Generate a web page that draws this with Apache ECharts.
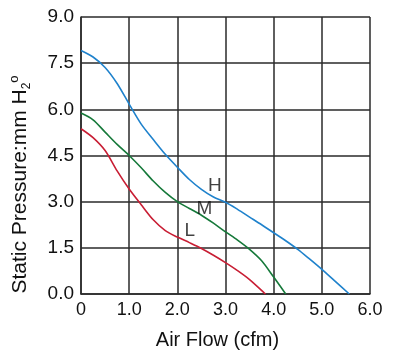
<!DOCTYPE html>
<html>
<head>
<meta charset="utf-8">
<script src="https://cdn.jsdelivr.net/npm/echarts@6/dist/echarts.min.js"></script>
<style>
html,body{margin:0;padding:0;background:#fff;}
#c{width:400px;height:355px;}
</style>
</head>
<body>
<div id="c"></div>
<script>
// Data (x = air flow in cfm, y = static pressure in mm H2O)
var curveH = [[0,7.91],[0.25,7.7],[0.5,7.36],[0.75,6.84],[1.0,6.17],[1.25,5.52],[1.5,5.02],[1.75,4.54],[2.0,4.12],[2.25,3.72],[2.5,3.4],[2.75,3.15],[3.0,2.98],[3.25,2.75],[3.5,2.5],[3.75,2.25],[4.0,1.99],[4.25,1.73],[4.5,1.45],[4.75,1.13],[5.0,0.8],[5.25,0.45],[5.57,0]];
var curveM = [[0,5.88],[0.25,5.66],[0.5,5.26],[0.75,4.86],[1.0,4.5],[1.25,4.1],[1.5,3.67],[1.75,3.3],[2.0,3.0],[2.25,2.78],[2.5,2.56],[2.75,2.3],[3.0,2.02],[3.25,1.75],[3.5,1.45],[3.75,1.08],[4.0,0.55],[4.25,0]];
var curveL = [[0,5.37],[0.25,5.08],[0.5,4.66],[0.75,4.0],[1.0,3.41],[1.25,2.9],[1.5,2.41],[1.75,2.06],[2.0,1.85],[2.25,1.67],[2.5,1.48],[2.75,1.26],[3.0,1.02],[3.25,0.76],[3.5,0.47],[3.83,0]];
var curveNames = ['H','M','L'];
var curveLabelPos = [[2.78,3.52],[2.56,2.77],[2.26,2.06]];
var xTicks = ['0','1.0','2.0','3.0','4.0','5.0','6.0'];
var yTicks = ['0.0','1.5','3.0','4.5','6.0','7.5','9.0'];

var colors = ['#1f82cc','#16793a','#c81e34'];
var font = 'Liberation Sans, Arial, sans-serif';

var chart = echarts.init(document.getElementById('c'), null, {renderer:'canvas'});
var labelData = curveNames.map(function(n,i){ return {value: curveLabelPos[i], name: n}; });

chart.setOption({
  animation:false,
  backgroundColor:'#fff',
  grid:{left:75,right:30,top:17,bottom:59,containLabel:false},
  xAxis:{
    type:'value',min:0,max:6,interval:1,
    axisLine:{show:true,onZero:false,lineStyle:{color:'#2a2a2a',width:1.5}},
    axisTick:{show:false},
    splitLine:{show:true,lineStyle:{color:'#2a2a2a',width:1.5}},
    axisLabel:{color:'#111',fontSize:18,fontFamily:font,margin:7,
      formatter:function(v){ return xTicks[Math.round(v)]; }},
    name:'Air Flow (cfm)',nameLocation:'middle',nameGap:36,
    nameTextStyle:{color:'#111',fontSize:20,fontFamily:font,padding:[0,16,0,0]}
  },
  yAxis:{
    type:'value',min:0,max:9,interval:1.5,
    axisLine:{show:true,onZero:false,lineStyle:{color:'#2a2a2a',width:1.5}},
    axisTick:{show:false},
    splitLine:{show:true,lineStyle:{color:'#2a2a2a',width:1.5}},
    axisLabel:{color:'#111',fontSize:19,fontFamily:font,margin:7,
      formatter:function(v){ return yTicks[Math.round(v/1.5)]; }},
    name:'{t|Static Pressure:mm H}{s|2}{o|o}',nameLocation:'middle',nameGap:48,nameRotate:90,
    nameTextStyle:{color:'#111',fontSize:21,fontFamily:font,padding:[0,58,0,0],
      rich:{
        t:{fontSize:21,fontFamily:font,color:'#111',lineHeight:25},
        s:{fontSize:12,fontFamily:font,color:'#111',verticalAlign:'bottom',lineHeight:14},
        o:{fontSize:13,fontFamily:font,color:'#111',verticalAlign:'top',lineHeight:14}
      }}
  },
  series:[
    {type:'line',data:curveH,smooth:0.3,showSymbol:false,lineStyle:{color:colors[0],width:1.6},z:3},
    {type:'line',data:curveM,smooth:0.3,showSymbol:false,lineStyle:{color:colors[1],width:1.6},z:3},
    {type:'line',data:curveL,smooth:0.3,showSymbol:false,lineStyle:{color:colors[2],width:1.6},z:3},
    {type:'scatter',data:labelData,symbolSize:0,z:4,silent:true,
      label:{show:true,position:'inside',formatter:'{b}',color:'#111',fontSize:19,fontFamily:font}}
  ]
});
</script>
</body>
</html>
